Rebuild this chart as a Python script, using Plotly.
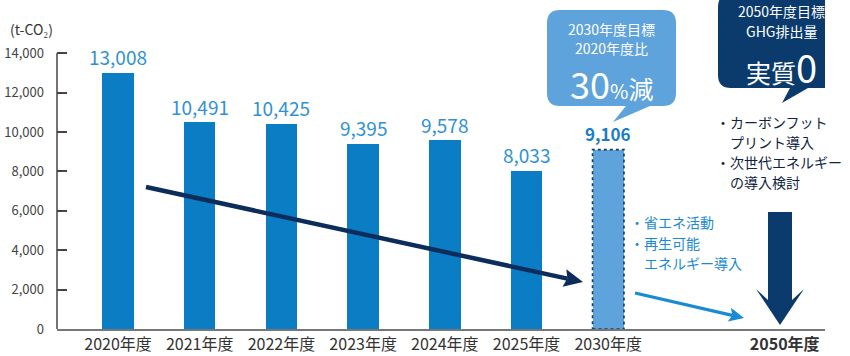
import math
import plotly.graph_objects as go

# ---------------- data ----------------
years = ["2020年度", "2021年度", "2022年度", "2023年度", "2024年度", "2025年度", "2030年度"]
values = [13008, 10491, 10425, 9395, 9578, 8033, 9106]
value_labels = ["13,008", "10,491", "10,425", "9,395", "9,578", "8,033", "9,106"]
goal_label = "2050年度"
goal_pos = 8.16
y_ticks = [0, 2000, 4000, 6000, 8000, 10000, 12000, 14000]

FONT = "Noto Sans CJK JP"
BAR = "#0a7dc5"
LIGHT = "#5fa3dc"
NAVY = "#0b3a6c"
ARROW_NAVY = "#0c2c5c"
LABEL_BLUE = "#2f92d4"
TEXT_BLUE = "#1a8ad4"

# ---------------- geometry (pixel -> data helpers) ----------------
W, H = 850, 356
L, R, T, B = 57, 825, 0, 329
xr = [-0.747, 8.653]
yr = [0, 16700]


def X(px):
    return xr[0] + (px - L) / (R - L) * (xr[1] - xr[0])


def Y(py):
    return yr[1] - (py - T) / (B - T) * (yr[1] - yr[0])


def poly(points):
    return "M " + " L ".join(f"{X(a)},{Y(b)}" for a, b in points) + " Z"


def rounded_box(x0, y0, x1, y1, r, tail):
    p = []
    p.append(f"M {X(x0 + r)},{Y(y0)}")
    p.append(f"L {X(x1 - r)},{Y(y0)}")
    p.append(f"Q {X(x1)},{Y(y0)} {X(x1)},{Y(y0 + r)}")
    p.append(f"L {X(x1)},{Y(y1 - r)}")
    p.append(f"Q {X(x1)},{Y(y1)} {X(x1 - r)},{Y(y1)}")
    for (a, b) in tail:
        p.append(f"L {X(a)},{Y(b)}")
    p.append(f"L {X(x0 + r)},{Y(y1)}")
    p.append(f"Q {X(x0)},{Y(y1)} {X(x0)},{Y(y1 - r)}")
    p.append(f"L {X(x0)},{Y(y0 + r)}")
    p.append(f"Q {X(x0)},{Y(y0)} {X(x0 + r)},{Y(y0)} Z")
    return " ".join(p)


def arrow_shapes(tail, tip, width, head_len, head_half, color, notch=3):
    tx, ty = tail
    hx, hy = tip
    d = math.hypot(hx - tx, hy - ty)
    ux, uy = (hx - tx) / d, (hy - ty) / d
    nx, ny = -uy, ux
    bx, by = hx - ux * head_len, hy - uy * head_len
    line = dict(type="line", xref="x", yref="y", x0=X(tx), y0=Y(ty),
                x1=X(bx + ux * notch), y1=Y(by + uy * notch),
                line=dict(color=color, width=width))
    head = dict(type="path", xref="x", yref="y",
                path=poly([(hx, hy), (bx + nx * head_half, by + ny * head_half),
                           (bx + ux * notch, by + uy * notch),
                           (bx - nx * head_half, by - ny * head_half)]),
                fillcolor=color, line=dict(width=0))
    return [line, head]


xs = list(range(len(years)))
BW = 0.385
colors = [BAR] * (len(years) - 1) + [LIGHT]

fig = go.Figure()
fig.add_trace(go.Bar(x=xs, y=values, width=BW, marker=dict(color=colors, line=dict(width=0)),
                     hoverinfo="skip", showlegend=False))

shapes = []
shapes.append(dict(type="rect", xref="x", yref="y", x0=xs[-1] - BW / 2, x1=xs[-1] + BW / 2,
                   y0=0, y1=values[-1], line=dict(color=NAVY, width=1.6, dash="dot"),
                   fillcolor="rgba(0,0,0,0)", layer="above"))
shapes.append(dict(type="line", xref="paper", yref="y", x0=0, x1=0, y0=0, y1=y_ticks[-1],
                   line=dict(color="#444", width=1.5)))
shapes.append(dict(type="path", xref="x", yref="y",
                   path=rounded_box(547, 10, 676, 106, 13, [(650, 106), (613, 122), (626, 106)]),
                   fillcolor=LIGHT, line=dict(width=0)))
shapes.append(dict(type="path", xref="x", yref="y",
                   path=rounded_box(718, -6, 845, 88, 13, [(808, 88), (782, 103), (790, 88)]),
                   fillcolor=NAVY, line=dict(width=0)))
cx = 780
shapes.append(dict(type="path", xref="x", yref="y",
                   path=poly([(cx - 12, 212), (cx + 12, 212), (cx + 12, 300), (cx + 24, 289),
                              (cx, 325), (cx - 24, 289), (cx - 12, 300)]),
                   fillcolor=NAVY, line=dict(width=0)))
shapes += arrow_shapes((146, 187), (583, 282), 4.5, 19, 9, ARROW_NAVY)
shapes += arrow_shapes((635, 293), (744, 318), 3.2, 15, 7, TEXT_BLUE)

ann = []
for i, (v, t) in enumerate(zip(values, value_labels)):
    last = i == len(values) - 1
    ann.append(dict(x=xs[i], y=v, xref="x", yref="y", text=f"<b>{t}</b>" if last else t,
                    showarrow=False, yanchor="middle", yshift=16,
                    font=dict(family=FONT, size=17 if last else 19,
                              color="#1a7cc8" if last else LABEL_BLUE)))
ann.append(dict(x=(8 - L) / (R - L), y=(B - 29) / (B - T), xref="paper", yref="paper",
                xanchor="left", yanchor="middle",
                text="(t-CO₂)", showarrow=False, font=dict(family=FONT, size=14, color="#333")))

for txt, py in [("2030年度目標", 29), ("2020年度比", 48)]:
    ann.append(dict(x=X(611), y=Y(py), xref="x", yref="y", text=txt, showarrow=False,
                    font=dict(family=FONT, size=14, color="white")))
ann.append(dict(x=X(611), y=Y(83), xref="x", yref="y", showarrow=False,
                text="<span style='font-size:36px'>30</span><span style='font-size:20px'>%</span>"
                     "<span style='font-size:25px'>減</span>",
                font=dict(family=FONT, size=25, color="white")))
for txt, py in [("2050年度目標", 11), ("GHG排出量", 31)]:
    ann.append(dict(x=X(781), y=Y(py), xref="x", yref="y", text=txt, showarrow=False,
                    font=dict(family=FONT, size=14, color="white")))
ann.append(dict(x=X(781), y=Y(66), xref="x", yref="y", showarrow=False,
                text="<span style='font-size:25px'>実質</span><span style='font-size:38px'>0</span>",
                font=dict(family=FONT, size=25, color="white")))

right_lines = [("・カーボンフット", 122), ("　プリント導入", 142), ("・次世代エネルギー", 162), ("　の導入検討", 182)]
for txt, py in right_lines:
    ann.append(dict(x=X(714), y=Y(py), xref="x", yref="y", xanchor="left", yanchor="middle",
                    text=txt, showarrow=False, font=dict(family=FONT, size=14, color="#0f2444")))
mid_lines = [("・省エネ活動", 222), ("・再生可能", 243), ("　エネルギー導入", 263)]
for txt, py in mid_lines:
    ann.append(dict(x=X(628), y=Y(py), xref="x", yref="y", xanchor="left", yanchor="middle",
                    text=txt, showarrow=False, font=dict(family=FONT, size=14, color=TEXT_BLUE)))

tickvals = xs + [goal_pos]
ticktext = years + [f"<b>{goal_label}</b>"]

fig.update_layout(
    width=W, height=H,
    margin=dict(l=L, r=W - R, t=T, b=H - B),
    paper_bgcolor="white", plot_bgcolor="white",
    bargap=0,
    shapes=shapes, annotations=ann,
    xaxis=dict(range=xr, tickvals=tickvals, ticktext=ticktext, showline=True, linecolor="#777",
               linewidth=2, ticks="", showgrid=False, zeroline=False, fixedrange=True,
               tickfont=dict(family=FONT, size=16, color="#333")),
    yaxis=dict(range=yr, tickvals=y_ticks, tickformat=",", ticks="inside", ticklen=10,
               tickcolor="#444", tickwidth=1.5, showline=False, showgrid=False, zeroline=False,
               ticklabelstandoff=12, tickfont=dict(family=FONT, size=13, color="#444")),
    font=dict(family=FONT),
)

fig.write_html("out.html")
